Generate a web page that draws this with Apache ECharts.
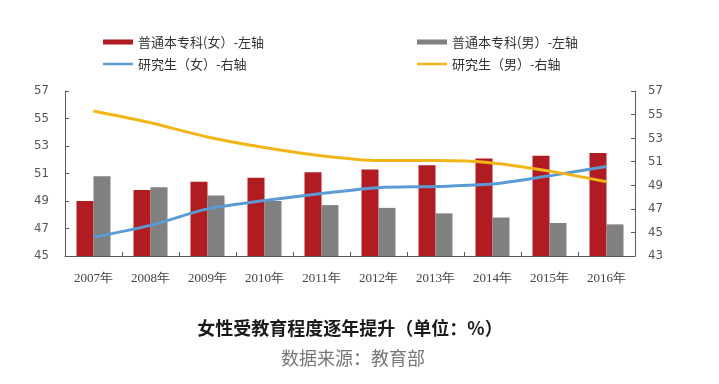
<!DOCTYPE html>
<html><head><meta charset="utf-8">
<script src="https://cdn.jsdelivr.net/npm/echarts@6/dist/echarts.min.js"></script>
<style>html,body{margin:0;padding:0;background:#fff}#c{width:719px;height:384px}</style>
</head><body><div id="c"></div>
<script>
const categories = ['2007年','2008年','2009年','2010年','2011年','2012年','2013年','2014年','2015年','2016年'];
const undergradFemale = [49.0, 49.8, 50.4, 50.7, 51.1, 51.3, 51.6, 52.1, 52.3, 52.5];
const undergradMale   = [50.8, 50.0, 49.4, 49.0, 48.7, 48.5, 48.1, 47.8, 47.4, 47.3];
const gradFemale      = [44.6, 45.6, 47.0, 47.7, 48.3, 48.8, 48.9, 49.1, 49.8, 50.6];
const gradMale        = [55.3, 54.3, 53.1, 52.2, 51.5, 51.1, 51.1, 50.9, 50.2, 49.3];
const names = ['普通本专科(女）-左轴','普通本专科(男）-左轴','研究生（女）-右轴','研究生（男）-右轴'];

const axisLine = {show:true, lineStyle:{color:'#595959', width:1}};
const yLabel = {color:'#555', fontSize:13, fontFamily:'Liberation Sans Narrow, DejaVu Sans Condensed, sans-serif'};
const lineIcon = 'path://M0,0H30V2.5H0Z';
const chart = echarts.init(document.getElementById('c'), null, {renderer:'canvas'});
chart.setOption({
  animation:false,
  title:[
    {text:'女性受教育程度逐年提升（单位：%）', left:345, top:314, textAlign:'center',
     textStyle:{fontSize:18, fontWeight:'bold', color:'#1a1a1a', fontFamily:'Noto Sans CJK SC'}},
    {text:'数据来源：教育部', left:348, top:344, textAlign:'center',
     textStyle:{fontSize:18, fontWeight:'normal', color:'#777', fontFamily:'Noto Sans CJK SC'}}
  ],
  legend:[
    {orient:'vertical', left:98, top:30, itemWidth:30, itemHeight:5, itemGap:8,
     textStyle:{fontSize:13, color:'#333', lineHeight:14, fontFamily:'Noto Sans CJK SC'},
     data:[{name:names[0], icon:'rect'}, {name:names[2], icon:lineIcon}]},
    {orient:'vertical', left:412, top:30, itemWidth:30, itemHeight:5, itemGap:8,
     textStyle:{fontSize:13, color:'#333', lineHeight:14, fontFamily:'Noto Sans CJK SC'},
     data:[{name:names[1], icon:'rect'}, {name:names[3], icon:lineIcon}]}
  ],
  grid:{left:65, right:84, top:91, bottom:128},
  xAxis:{type:'category', data:categories, boundaryGap:true,
    axisLine:axisLine, axisTick:{show:true, inside:true, length:4, lineStyle:{color:'#595959'}},
    axisLabel:{color:'#444', fontSize:13, margin:16, fontFamily:'Liberation Serif, serif'},
    splitLine:{show:false}},
  yAxis:[
    {type:'value', min:45, max:57, interval:2, position:'left',
     axisLine:axisLine, axisTick:{show:true, inside:true, length:4, lineStyle:{color:'#595959'}},
     axisLabel:Object.assign({margin:16}, yLabel), splitLine:{show:false}},
    {type:'value', min:43, max:57, interval:2, position:'right',
     axisLine:axisLine, axisTick:{show:true, inside:true, length:4, lineStyle:{color:'#595959'}},
     axisLabel:Object.assign({margin:13}, yLabel), splitLine:{show:false}}
  ],
  series:[
    {name:names[0], type:'bar', yAxisIndex:0, data:undergradFemale, barWidth:17, barGap:'0%',
     itemStyle:{color:'#b01c22'}},
    {name:names[1], type:'bar', yAxisIndex:0, data:undergradMale, barWidth:17, barGap:'0%',
     itemStyle:{color:'#808080'}},
    {name:names[2], type:'line', yAxisIndex:1, data:gradFemale, smooth:0.3, symbol:'none',
     lineStyle:{color:'#5b9bd5', width:3}, itemStyle:{color:'#5b9bd5'}},
    {name:names[3], type:'line', yAxisIndex:1, data:gradMale, smooth:0.3, symbol:'none',
     lineStyle:{color:'#f2b518', width:3}, itemStyle:{color:'#f2b518'}}
  ]
});
</script></body></html>
